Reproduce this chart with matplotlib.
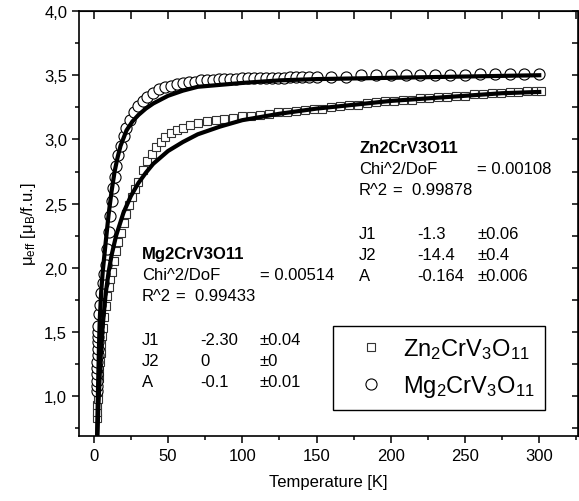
import numpy as np
import matplotlib
matplotlib.use("Agg")
import matplotlib.pyplot as plt
from matplotlib.ticker import MultipleLocator, FuncFormatter

plt.rcParams["font.family"] = ["Liberation Sans", "DejaVu Sans"]
plt.rcParams["mathtext.default"] = "regular"

# measured data, Mg2CrV3O11 (circles)
T_mg = [1.9, 2.0, 2.1, 2.2, 2.3, 2.4, 2.5, 2.6, 2.7, 2.8, 2.9, 3.0, 3.5, 4, 5, 6, 7, 8, 9, 10,
        11, 12, 13, 14, 15, 16.5, 18, 20, 22, 24.5, 27, 30, 33, 36, 40, 44, 48, 52, 56, 60,
        64, 68, 72, 76, 80, 84, 88, 92, 96, 100, 104, 108, 112, 116, 120, 124, 128, 132, 136,
        140, 145, 150, 160, 170, 180, 190, 200, 210, 220, 230, 240, 250, 260, 270, 280, 290, 300]
mu_mg = [1.04, 1.08, 1.12, 1.17, 1.22, 1.27, 1.32, 1.37, 1.42, 1.46, 1.50, 1.55, 1.64, 1.71, 1.80,
         1.88, 1.95, 2.02, 2.15, 2.28, 2.40, 2.52, 2.62, 2.71, 2.79, 2.88, 2.95, 3.03, 3.09, 3.15,
         3.21, 3.26, 3.30, 3.33, 3.36, 3.39, 3.41, 3.42, 3.43, 3.44, 3.45, 3.45, 3.46, 3.46, 3.46,
         3.47, 3.47, 3.47, 3.47, 3.48, 3.48, 3.48, 3.48, 3.48, 3.48, 3.48, 3.48, 3.49, 3.49, 3.49,
         3.49, 3.49, 3.49, 3.49, 3.50, 3.50, 3.50, 3.50, 3.50, 3.50, 3.50, 3.50, 3.51, 3.51, 3.51,
         3.51, 3.51]

# measured data, Zn2CrV3O11 (squares)
T_zn = [2.0, 2.2, 2.4, 2.6, 2.8, 3.0, 3.3, 3.6, 4, 4.5, 5, 5.5, 6, 7, 8, 9, 10, 11, 12, 13.5,
        15, 16.5, 18, 20, 22, 24, 26, 28, 30, 33, 36, 39, 42, 45, 48, 52, 56, 60, 65, 70,
        76, 82, 88, 94, 100, 106, 112, 118, 124, 130, 136, 142, 148, 154, 160, 166, 172, 178,
        184, 190, 196, 202, 208, 214, 220, 226, 232, 238, 244, 250, 256, 262, 268, 274, 280,
        286, 292, 298, 301]
mu_zn = [0.83, 0.88, 0.93, 0.98, 1.03, 1.08, 1.14, 1.20, 1.27, 1.34, 1.41, 1.47, 1.53, 1.62, 1.70,
         1.78, 1.85, 1.91, 1.97, 2.05, 2.13, 2.20, 2.27, 2.35, 2.42, 2.49, 2.55, 2.61, 2.67, 2.76,
         2.83, 2.89, 2.94, 2.98, 3.02, 3.05, 3.07, 3.09, 3.11, 3.13, 3.14, 3.15, 3.16, 3.17, 3.18,
         3.18, 3.19, 3.20, 3.21, 3.21, 3.22, 3.23, 3.24, 3.24, 3.25, 3.26, 3.27, 3.27, 3.28, 3.29,
         3.30, 3.30, 3.31, 3.31, 3.32, 3.32, 3.33, 3.33, 3.34, 3.34, 3.35, 3.35, 3.36, 3.36, 3.37,
         3.37, 3.38, 3.38, 3.38]

# fitted curves
T_fit_mg = [2.2, 2.5, 3, 3.5, 4, 5, 6, 8, 10, 12, 14, 16, 18, 22, 26, 30, 35, 40, 45, 50,
            60, 70, 80, 100, 125, 150, 200, 250, 300]
mu_fit_mg = [0.69, 0.88, 1.15, 1.40, 1.60, 1.82, 1.97, 2.20, 2.42, 2.60, 2.75, 2.86, 2.95, 3.07,
             3.14, 3.19, 3.24, 3.28, 3.31, 3.34, 3.38, 3.41, 3.42, 3.44, 3.46, 3.47, 3.48, 3.49, 3.50]

T_fit_zn = [2.4, 3, 4, 5, 6, 8, 10, 12, 15, 20, 25, 30, 35, 40, 50, 60, 70, 85, 100, 125,
            150, 175, 200, 225, 250, 275, 300]
mu_fit_zn = [0.69, 0.90, 1.17, 1.38, 1.55, 1.80, 1.97, 2.10, 2.25, 2.43, 2.56, 2.66, 2.74, 2.81,
             2.91, 2.98, 3.04, 3.10, 3.15, 3.20, 3.24, 3.27, 3.30, 3.32, 3.34, 3.36, 3.37]

fig = plt.figure(figsize=(5.79, 5.02), dpi=100)
ax = fig.add_axes([0.1364, 0.1295, 0.8616, 0.8465])

ax.plot(T_zn, mu_zn, linestyle="none", marker="s", ms=6, mfc="white", mec="#333333", mew=0.8,
        label=r"Zn$_2$CrV$_3$O$_{11}$")
ax.plot(T_mg, mu_mg, linestyle="none", marker="o", ms=8, mfc="white", mec="black", mew=0.8,
        label=r"Mg$_2$CrV$_3$O$_{11}$")
ax.plot(T_fit_zn, mu_fit_zn, color="black", lw=3)
ax.plot(T_fit_mg, mu_fit_mg, color="black", lw=3)

ax.set_xlim(-10, 326)
ax.set_ylim(0.69, 4.0)
ax.xaxis.set_major_locator(MultipleLocator(50))
ax.xaxis.set_minor_locator(MultipleLocator(25))
ax.yaxis.set_major_locator(MultipleLocator(0.5))
ax.yaxis.set_minor_locator(MultipleLocator(0.25))
ax.yaxis.set_major_formatter(FuncFormatter(lambda v, p: ("%.1f" % v).replace(".", ",")))

for s in ax.spines.values():
    s.set_linewidth(1.2)
ax.tick_params(which="both", labelsize=12, width=1.1, direction="out")
ax.tick_params(which="major", length=5)
ax.tick_params(which="minor", length=3)

# mirrored ticks on top and right point inward
top = ax.secondary_xaxis("top")
top.xaxis.set_major_locator(MultipleLocator(25))
top.tick_params(direction="in", length=6, width=1.1, labeltop=False)
right = ax.secondary_yaxis("right")
right.yaxis.set_major_locator(MultipleLocator(0.25))
right.tick_params(direction="in", length=4, width=1.1, labelright=False)

ax.set_xlabel("Temperature [K]", fontsize=12, labelpad=8)
ax.set_ylabel("μ$_{eff}$ [μ$_B$/f.u.]", fontsize=12, labelpad=4)

# fit results
fs = 12
def block(x, y, title, chi, r2, rows):
    ax.text(x, y, title, fontsize=fs, fontweight="bold", va="center", transform=None)
    ax.text(x, y - 21, "Chi^2/DoF", fontsize=fs, va="center", transform=None)
    ax.text(x + 118, y - 21, "= " + chi, fontsize=fs, va="center", transform=None)
    ax.text(x, y - 42, "R^2", fontsize=fs, va="center", transform=None)
    ax.text(x + 34, y - 42, "=  " + r2, fontsize=fs, va="center", transform=None)
    for i, (n, v, e) in enumerate(rows):
        yy = y - 86 - 21 * i
        ax.text(x, yy, n, fontsize=fs, va="center", transform=None)
        ax.text(x + 58, yy, v, fontsize=fs, va="center", transform=None)
        ax.text(x + 118, yy, e, fontsize=fs, va="center", transform=None)

block(359, 502 - 149, "Zn2CrV3O11", "0.00108", "0.99878",
      [("J1", "-1.3", "±0.06"), ("J2", "-14.4", "±0.4"), ("A", "-0.164", "±0.006")])
block(142, 502 - 255, "Mg2CrV3O11", "0.00514", "0.99433",
      [("J1", "-2.30", "±0.04"), ("J2", "0", "±0"), ("A", "-0.1", "±0.01")])

leg = ax.legend(loc="upper left", bbox_to_anchor=(0.509, 0.259), borderaxespad=0,
                fontsize=17, fancybox=False, edgecolor="black", framealpha=1,
                handletextpad=0.2, borderpad=0.45, labelspacing=0.5, handlelength=2.3)
leg.get_frame().set_linewidth(1.0)

fig.savefig("out.png", dpi=100)
